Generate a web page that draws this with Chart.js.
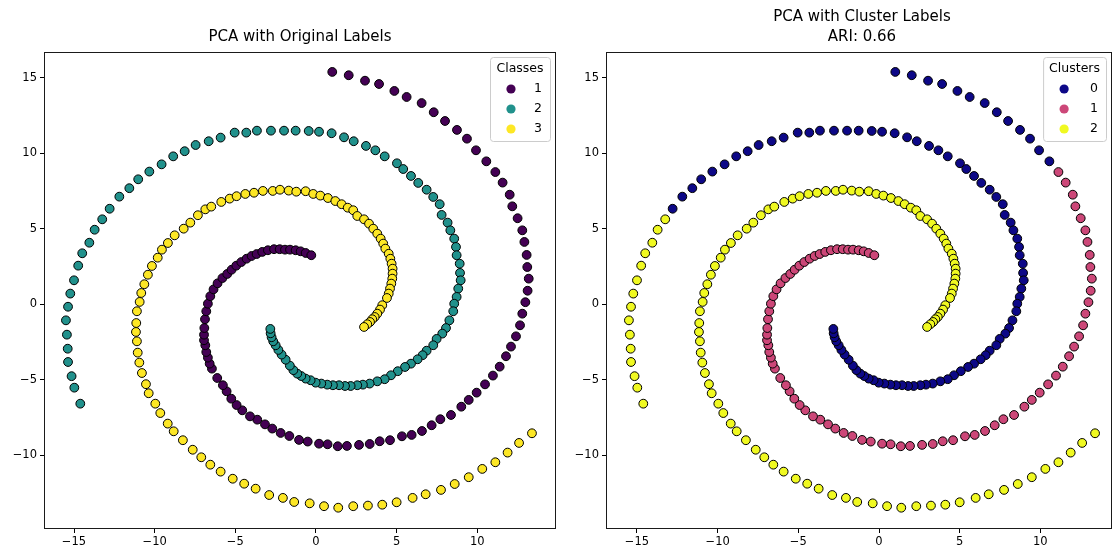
<!DOCTYPE html>
<html>
<head>
<meta charset="utf-8">
<script src="https://cdn.jsdelivr.net/npm/chart.js@4.4.1/dist/chart.umd.min.js"></script>
<style>
html,body{margin:0;padding:0;background:#fff;overflow:hidden;}
canvas{position:absolute;left:0;top:0;}
</style>
</head>
<body>
<canvas id="left" width="1119" height="553"></canvas>
<canvas id="right" width="1119" height="553"></canvas>
<script>
// ---- data: [x, y, cluster label] per point, grouped by original class ----
const class1 = [
 [1.01,15.40,0],[2.03,15.18,0],[3.04,14.82,0],[3.91,14.60,0],[4.86,14.14,0],[5.62,13.74,0],[6.55,13.34,0],
 [7.30,12.73,0],[8.00,12.15,0],[8.74,11.56,0],[9.36,10.98,0],[9.92,10.21,0],[10.56,9.48,0],
 [11.12,8.77,1],[11.57,8.07,1],[12.01,7.27,1],[12.17,6.50,1],[12.50,5.71,1],[12.79,4.91,1],[12.92,4.14,1],
 [13.06,3.28,1],[13.10,2.48,1],[13.19,1.71,1],[13.12,0.91,1],[12.98,0.15,1],[12.79,-0.61,1],[12.65,-1.38,1],
 [12.40,-2.11,1],[12.09,-2.79,1],[11.78,-3.43,1],[11.39,-4.12,1],[10.97,-4.71,1],[10.48,-5.29,1],[9.96,-5.84,1],
 [9.47,-6.32,1],[9.01,-6.77,1],[8.37,-7.32,1],[7.71,-7.60,1],[7.17,-8.00,1],[6.57,-8.38,1],[5.93,-8.64,1],
 [5.33,-8.73,1],[4.59,-8.99,1],[3.95,-9.06,1],[3.33,-9.24,1],[2.67,-9.30,1],[1.92,-9.37,1],[1.35,-9.39,1],
 [0.72,-9.26,1],[0.19,-9.22,1],[-0.51,-9.08,1],[-1.05,-8.97,1],[-1.65,-8.71,1],[-2.19,-8.51,1],[-2.71,-8.22,1],
 [-3.16,-7.94,1],[-3.64,-7.63,1],[-4.09,-7.41,1],[-4.57,-7.01,1],[-4.92,-6.66,1],[-5.25,-6.24,1],[-5.54,-5.75,1],
 [-5.77,-5.35,1],[-6.12,-4.87,1],[-6.45,-4.25,1],[-6.59,-3.92,1],[-6.70,-3.52,1],[-6.80,-3.15,1],[-6.86,-2.70,1],
 [-6.94,-2.37,1],[-6.94,-2.00,1],[-6.92,-1.56,1],[-6.88,-0.98,1],[-6.80,-0.45,1],[-6.70,0.05,1],[-6.55,0.55,1],
 [-6.35,1.00,1],[-6.10,1.40,1],[-5.80,1.75,1],[-5.50,2.02,1],[-5.23,2.30,1],[-4.94,2.57,1],[-4.63,2.81,1],
 [-4.30,3.03,1],[-3.99,3.21,1],[-3.68,3.34,1],[-3.33,3.48,1],[-2.98,3.59,1],[-2.60,3.66,1],[-2.25,3.66,1],
 [-1.92,3.63,1],[-1.61,3.63,1],[-1.26,3.59,1],[-0.95,3.52,1],[-0.64,3.41,1],[-0.29,3.26,1]
];
const class2 = [
 [-14.61,-6.57,2],[-14.98,-5.51,2],[-15.15,-4.75,2],[-15.37,-3.81,2],[-15.39,-2.93,2],[-15.44,-2.00,2],
 [-15.50,-1.05,2],[-15.37,-0.15,2],[-15.23,0.72,2],[-15.00,1.60,2],[-14.74,2.57,2],[-14.49,3.39,2],
 [-14.05,4.09,2],[-13.72,4.95,2],[-13.25,5.64,2],
 [-12.79,6.34,0],[-12.19,7.14,0],[-11.57,7.70,0],[-11.02,8.29,0],[-10.33,8.80,0],[-9.57,9.28,0],[-8.85,9.81,0],
 [-8.14,10.15,0],[-7.46,10.56,0],[-6.65,10.81,0],[-5.91,11.05,0],[-5.04,11.38,0],[-4.32,11.38,0],[-3.66,11.51,0],
 [-2.79,11.51,0],[-1.98,11.51,0],[-1.26,11.51,0],[-0.45,11.49,0],[0.19,11.44,0],[0.97,11.34,0],[1.74,11.07,0],
 [2.34,10.81,0],[3.10,10.50,0],[3.68,10.21,0],[4.26,9.81,0],[5.02,9.35,0],[5.41,8.97,0],[5.89,8.51,0],
 [6.34,8.05,0],[6.86,7.60,0],[7.27,7.12,0],[7.67,6.64,0],[7.79,5.93,0],[8.16,5.42,0],[8.33,4.91,0],
 [8.57,4.36,0],[8.68,3.81,0],[8.72,3.26,0],[8.91,2.70,0],[8.93,2.09,0],[8.97,1.60,0],[8.82,1.05,0],
 [8.72,0.50,0],[8.57,0.05,0],[8.51,-0.45,0],[8.27,-1.05,0],[8.06,-1.56,0],[7.83,-1.93,0],[7.48,-2.28,0],
 [7.27,-2.70,0],[6.86,-3.06,0],[6.61,-3.36,0],[6.30,-3.63,0],[5.89,-3.92,0],[5.52,-4.14,0],[5.07,-4.42,0],
 [4.65,-4.69,0],[4.26,-4.95,0],[3.80,-5.09,0],[3.33,-5.24,0],[2.91,-5.31,0],[2.56,-5.35,0],[2.15,-5.40,0],
 [1.80,-5.40,0],[1.43,-5.35,0],[1.05,-5.35,0],[0.70,-5.31,0],[0.33,-5.24,0],[-0.02,-5.18,0],[-0.33,-5.02,0],
 [-0.64,-4.91,0],[-0.91,-4.74,0],[-1.16,-4.58,0],[-1.40,-4.35,0],[-1.62,-4.05,0],[-1.88,-3.66,0],[-2.13,-3.32,0],
 [-2.33,-3.01,0],[-2.50,-2.70,0],[-2.65,-2.44,0],[-2.75,-2.17,0],[-2.81,-1.91,0],[-2.83,-1.62,0]
];
const class3 = [
 [13.39,-8.53,2],[12.59,-9.17,2],[11.88,-9.81,2],[11.12,-10.45,2],[10.31,-10.89,2],[9.47,-11.44,2],
 [8.60,-11.89,2],[7.75,-12.28,2],[6.80,-12.57,2],[5.99,-12.81,2],[5.00,-13.10,2],[4.11,-13.26,2],
 [3.22,-13.32,2],[2.31,-13.36,2],[1.38,-13.46,2],[0.50,-13.36,2],[-0.39,-13.17,2],[-1.35,-13.08,2],
 [-2.05,-12.81,2],[-2.90,-12.62,2],[-3.74,-12.20,2],[-4.45,-11.87,2],[-5.16,-11.54,2],[-5.91,-11.07,2],
 [-6.55,-10.61,2],[-7.11,-10.12,2],[-7.64,-9.62,2],[-8.25,-8.99,2],[-8.82,-8.40,2],[-9.19,-7.89,2],
 [-9.65,-7.19,2],[-9.96,-6.57,2],[-10.37,-5.88,2],[-10.54,-5.28,2],[-10.79,-4.54,2],[-10.95,-3.85,2],
 [-11.05,-3.19,2],[-11.10,-2.44,2],[-11.16,-1.82,2],[-11.14,-1.23,2],[-11.10,-0.45,2],[-10.93,0.17,2],
 [-10.83,0.76,2],[-10.64,1.34,2],[-10.42,1.97,2],[-10.17,2.55,2],[-9.81,3.10,2],[-9.55,3.63,2],
 [-9.18,4.07,2],[-8.76,4.58,2],[-8.20,5.02,2],[-7.79,5.42,2],[-7.32,5.91,2],[-6.86,6.30,2],[-6.49,6.48,2],
 [-5.87,6.79,2],[-5.35,7.01,2],[-4.92,7.17,2],[-4.38,7.32,2],[-3.84,7.40,2],[-3.29,7.52,2],[-2.68,7.52,2],
 [-2.23,7.60,2],[-1.69,7.54,2],[-1.22,7.47,2],[-0.64,7.50,2],[-0.17,7.32,2],[0.27,7.21,2],[0.74,7.05,2],
 [1.20,6.85,2],[1.59,6.64,2],[1.97,6.41,2],[2.31,6.24,2],[2.56,5.86,2],[2.98,5.64,2],[3.29,5.35,2],
 [3.55,5.02,2],[3.80,4.69,2],[4.01,4.36,2],[4.17,4.03,2],[4.30,3.70,2],[4.51,3.36,2],[4.61,3.03,2],
 [4.69,2.70,2],[4.75,2.37,2],[4.75,2.04,2],[4.73,1.71,2],[4.67,1.38,2],[4.59,1.05,2],[4.51,0.72,2],
 [4.40,0.43,2],[4.11,-0.05,2],[3.97,-0.34,2],[3.80,-0.61,2],[3.64,-0.83,2],[3.49,-0.98,2],[3.35,-1.16,2],
 [3.18,-1.31,2],[2.98,-1.49,2]
];
const classNames = ['1','2','3'];
const clusterNames = ['0','1','2'];
const classColors = ['#440154','#21918c','#fde725'];   // viridis
const clusterColors = ['#0d0887','#cc4778','#f0f921']; // plasma
const xTicks = [-15,-10,-5,0,5,10];
const yTicks = [-10,-5,0,5,10,15];
const xRangeLeft = [-16.86,14.88];
const xRangeRight = [-16.92,14.44];
const yRange = [-14.87,16.72];

const FONT = 'DejaVu Sans';
const fmt = v => String(v).replace('-', '\u2212');

const deco = {
  id: 'deco',
  afterDraw(chart, args, o) {
    const ctx = chart.ctx, a = chart.chartArea;
    ctx.save();
    ctx.strokeStyle = '#1a1a1a'; ctx.lineWidth = 1;
    ctx.strokeRect(Math.round(a.left) + 0.5, Math.round(a.top) + 0.5,
                   Math.round(a.right - a.left) - 1, Math.round(a.bottom - a.top) - 1);
    ctx.fillStyle = '#000';
    ctx.font = `15px "${FONT}"`;
    ctx.textAlign = 'center'; ctx.textBaseline = 'middle';
    const cx = (a.left + a.right) / 2 + (o.titleShift || 0);
    o.title.forEach((t, i) => ctx.fillText(t, cx, o.titleY[i]));
    ctx.font = `12.5px "${FONT}"`;
    const tw = ctx.measureText(o.legendTitle).width;
    const w = Math.max(tw + 12, 60), h = 84;
    const x0 = a.right - 6 - w, y0 = a.top + 5;
    ctx.beginPath();
    if (ctx.roundRect) ctx.roundRect(x0 + 0.5, y0 + 0.5, w, h, 3); else ctx.rect(x0 + 0.5, y0 + 0.5, w, h);
    ctx.fillStyle = 'rgba(255,255,255,0.8)'; ctx.fill();
    ctx.strokeStyle = '#cccccc'; ctx.lineWidth = 1; ctx.stroke();
    ctx.fillStyle = '#000'; ctx.textAlign = 'center';
    ctx.fillText(o.legendTitle, x0 + w / 2, y0 + 12);
    o.names.forEach((n, i) => {
      const yy = y0 + 32 + i * 20;
      ctx.beginPath(); ctx.arc(x0 + 21, yy, 4.6, 0, Math.PI * 2);
      ctx.fillStyle = o.colors[i]; ctx.fill();
      ctx.fillStyle = '#000'; ctx.textAlign = 'right';
      ctx.fillText(n, x0 + w - 8, yy);
    });
    ctx.restore();
  }
};

function makeScales(xRange) {
  const common = (ticks, range, isX) => ({
    type: 'linear', min: range[0], max: range[1],
    afterBuildTicks: s => { s.ticks = ticks.map(v => ({ value: v })); },
    afterFit: s => { if (isX) s.height = 24; else s.width = 44; },
    grid: { drawOnChartArea: false, drawTicks: true, tickLength: 4, color: '#000', lineWidth: 1 },
    border: { display: false },
    ticks: { color: '#000', font: { family: FONT, size: 11.5 }, padding: isX ? 2 : 3,
             callback: v => fmt(v), maxRotation: 0, autoSkip: false }
  });
  return { x: common(xTicks, xRange, true), y: common(yTicks, yRange, false) };
}

function datasets(groups, colors) {
  return groups.map((pts, i) => ({
    data: pts.map(p => ({ x: p[0], y: p[1] })),
    backgroundColor: colors[i], borderColor: '#000', borderWidth: 1,
    pointRadius: 4.4, pointHoverRadius: 4.4
  }));
}

const allPts = [...class1, ...class2, ...class3];
const byCluster = clusterNames.map((_, c) => allPts.filter(p => p[2] === c));

function build(id, groups, colors, padding, xRange, decoOpts) {
  new Chart(document.getElementById(id), {
    type: 'scatter',
    data: { datasets: datasets(groups, colors) },
    options: {
      responsive: false, animation: false, events: [],
      layout: { padding, autoPadding: false },
      plugins: { legend: { display: false }, tooltip: { enabled: false }, title: { display: false }, deco: decoOpts },
      scales: makeScales(xRange)
    },
    plugins: [deco]
  });
}

build('left', [class1, class2, class3], classColors,
  { left: 0, right: 563, top: 52, bottom: 0 }, xRangeLeft,
  { title: ['PCA with Original Labels'], titleY: [37], legendTitle: 'Classes', names: classNames, colors: classColors });

build('right', byCluster, clusterColors,
  { left: 562, right: 7, top: 52, bottom: 0 }, xRangeRight,
  { title: ['PCA with Cluster Labels', 'ARI: 0.66'], titleY: [17, 37], titleShift: 3, legendTitle: 'Clusters', names: clusterNames, colors: clusterColors });
</script>
</body>
</html>
